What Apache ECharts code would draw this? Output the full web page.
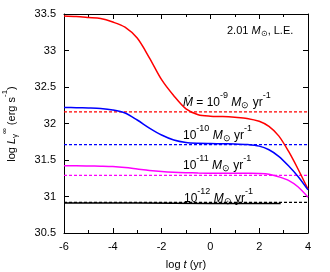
<!DOCTYPE html>
<html><head><meta charset="utf-8">
<script src="https://cdn.jsdelivr.net/npm/echarts@6/dist/echarts.min.js"></script>
<style>html,body{margin:0;padding:0;background:#fff}#c{width:330px;height:272px}</style>
</head><body><div id="c"></div>
<script>
// log t (yr) sample grid shared by the curves
var logT = [-6,-5.5,-5,-4.5,-4,-3.5,-3,-2.5,-2,-1.5,-1,-0.5,0,0.5,1,1.5,2,2.4,2.8,3.2,3.6,4];
// log L (erg/s) for each accretion rate
var lum9  = [33.473,33.465,33.452,33.438,33.39,33.32,33.17,32.90,32.60,32.38,32.20,32.12,32.10,32.095,32.085,32.07,32.03,31.96,31.83,31.62,31.37,31.10];
var lum10 = [32.22,32.216,32.212,32.205,32.185,32.144,32.048,31.938,31.842,31.774,31.74,31.729,31.725,31.722,31.72,31.712,31.69,31.64,31.55,31.42,31.27,31.09];
var lum11 = [31.42,31.42,31.418,31.415,31.41,31.397,31.377,31.357,31.342,31.332,31.326,31.322,31.32,31.32,31.32,31.318,31.315,31.305,31.27,31.22,31.13,30.99];
var logT12 = [-6,-3,0,2,2.88];
var lum12  = [30.91,30.91,30.905,30.905,30.905];
// equilibrium (dashed) levels
var levelT = [-6,4];
var levels = [32.16,31.71,31.29,30.92];
var colors = ['#ff0000','#0000ff','#ff00ff','#000000'];
var xTicks = {min:-6,max:4,interval:2};
var yTicks = {min:30.5,max:33.5,interval:0.5};

function pairs(xs, ys){ return xs.map(function(x,i){return [x, ys[i]];}); }

var FONT = 'Liberation Sans';
var series = [];
[[logT,lum9],[logT,lum10],[logT,lum11],[logT12,lum12]].forEach(function(s,i){
  series.push({type:'line',data:pairs(s[0],s[1]),smooth:0.3,symbol:'none',
    lineStyle:{color:colors[i],width:1.5},z:3});
});
levels.forEach(function(v,i){
  series.push({type:'line',data:pairs(levelT,[v,v]),symbol:'none',
    lineStyle:{color:colors[i],width:1.3,type:[3,2]},z:2});
});

function axX(pos){
  return {type:'value',position:pos,min:xTicks.min,max:xTicks.max,interval:xTicks.interval,
    axisLine:{show:true,onZero:false,lineStyle:{color:'#000',width:1}},
    axisTick:{show:true,inside:true,length:5,lineStyle:{color:'#000'}},
    minorTick:{show:true,splitNumber:2,length:3,lineStyle:{color:'#000'}},
    splitLine:{show:false},minorSplitLine:{show:false},
    axisLabel:{show:pos==='bottom',color:'#000',fontSize:11,fontFamily:FONT,margin:8}};
}
function axY(pos){
  return {type:'value',position:pos,min:yTicks.min,max:yTicks.max,interval:yTicks.interval,
    axisLine:{show:true,onZero:false,lineStyle:{color:'#000',width:1}},
    axisTick:{show:true,inside:true,length:5,lineStyle:{color:'#000'}},
    splitLine:{show:false},
    axisLabel:{show:pos==='left',color:'#000',fontSize:11,fontFamily:FONT,margin:8}};
}

function richFor(color,fs){
  var s = fs||11, ss = Math.round(s*0.72), lh = s+5;
  return {
    a:{fontSize:s,fontFamily:FONT,color:color,lineHeight:lh,verticalAlign:'bottom'},
    i:{fontSize:s,fontFamily:FONT,fontStyle:'italic',color:color,lineHeight:lh,verticalAlign:'bottom'},
    sup:{fontSize:ss,fontFamily:FONT,color:color,lineHeight:lh,verticalAlign:'top'},
    sub:{fontSize:ss,fontFamily:FONT,color:color,lineHeight:lh,verticalAlign:'bottom',padding:[0,0,-2,0]}
  };
}
function lab(x,y,text,color,fs){
  return {type:'text',x:x,y:y,style:{text:text,rich:richFor(color,fs),align:'left',verticalAlign:'middle'},z:10};
}

var option = {
  animation:false,
  grid:{left:64,right:22,top:14,bottom:39},
  xAxis:[axX('bottom'),axX('top')],
  yAxis:[axY('left'),axY('right')],
  series:series,
  graphic:[
    lab(227,28,'{a|2.01 }{i|M}{sub|⊙}{a|, L.E.}','#000',11),
    lab(183,100,'{i|Ṁ}{a| = 10}{sup|-9}{a| }{i|M}{sub|⊙}{a| yr}{sup|-1}','#ff0000',12),
    lab(183,133,'{a|10}{sup|-10}{a| }{i|M}{sub|⊙}{a| yr}{sup|-1}','#0000ff',12),
    lab(183,163,'{a|10}{sup|-11}{a| }{i|M}{sub|⊙}{a| yr}{sup|-1}','#ff00ff',12),
    lab(184,196,'{a|10}{sup|-12}{a| }{i|M}{sub|⊙}{a| yr}{sup|-1}','#000',12),
    {type:'text',x:186,y:262,style:{text:'{a|log }{i|t}{a| (yr)}',rich:richFor('#000',11),align:'center',verticalAlign:'middle'}},
    {type:'text',x:9,y:124,rotation:Math.PI/2,style:{text:'{a|log }{i|L}{sub|γ}{sup|∞}{a| (erg s}{sup|-1}{a|)}',rich:richFor('#000',11),align:'center',verticalAlign:'middle'}}
  ]
};
var chart = echarts.init(document.getElementById('c'),null,{renderer:'canvas'});
chart.setOption(option);
</script></body></html>
